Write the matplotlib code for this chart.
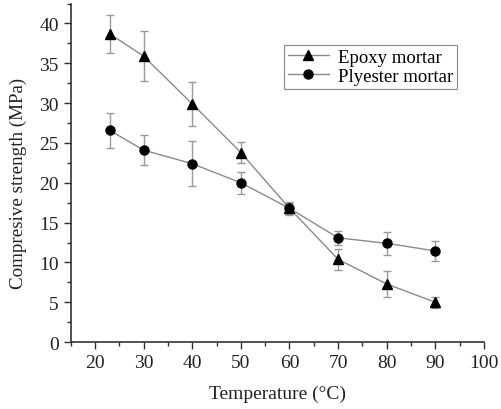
import matplotlib
matplotlib.use("Agg")
import matplotlib.pyplot as plt
from matplotlib.ticker import MultipleLocator

plt.rcParams['font.family'] = ['Liberation Serif', 'DejaVu Serif']
plt.rcParams['mathtext.fontset'] = 'stix'

temperature = [23, 30, 40, 50, 60, 70, 80, 90]
epoxy = [38.7, 35.9, 29.9, 23.8, 16.8, 10.4, 7.3, 5.0]
epoxy_err = [2.35, 3.1, 2.75, 1.3, 0.8, 1.3, 1.65, 0.7]
polyester = [26.6, 24.1, 22.4, 20.0, 16.8, 13.1, 12.4, 11.45]
polyester_err = [2.2, 1.9, 2.8, 1.4, 0.7, 0.9, 1.45, 1.25]
series_labels = ["Epoxy mortar", "Plyester mortar"]
xlabel = "Temperature (°C)"
ylabel = "Compresive strength (MPa)"

fig = plt.figure(figsize=(5.01, 4.10), dpi=100)
ax = fig.add_axes([0.141, 0.163, 0.825, 0.826])

line_c = '#8a8a8a'
err_c = '#9a9a9a'
for y, e, m, ms, lab in [(epoxy, epoxy_err, '^', 7.5, series_labels[0]),
                         (polyester, polyester_err, 'o', 6.5, series_labels[1])]:
    ax.errorbar(temperature, y, yerr=e, fmt='none', ecolor=err_c, elinewidth=1.0,
                capsize=3, capthick=1.0, zorder=2)
    ax.plot(temperature, y, color=line_c, lw=1.0, marker=m, ms=ms,
            mfc='black', mec='black', label=lab, zorder=3)

ax.set_xlim(15, 100)
ax.set_ylim(0, 42.5)
ax.xaxis.set_major_locator(MultipleLocator(10))
ax.xaxis.set_minor_locator(MultipleLocator(5))
ax.yaxis.set_major_locator(MultipleLocator(5))
ax.yaxis.set_minor_locator(MultipleLocator(2.5))
ax.set_xticks(range(20, 101, 10))

for s in ['top', 'right']:
    ax.spines[s].set_visible(False)
for s in ['left', 'bottom']:
    ax.spines[s].set_color('#333333')
    ax.spines[s].set_linewidth(1.2)

ax.tick_params(which='major', direction='out', length=5, width=1, colors='#333333',
               labelsize=14, labelcolor='#222222')
ax.tick_params(which='minor', direction='out', length=3, width=1, colors='#333333')

ax.set_xlabel(xlabel, fontsize=14, color='#222222', labelpad=10)
ax.set_ylabel(ylabel, fontsize=13.7, color='#222222')
ax.yaxis.set_label_coords(-0.105, 20 / 42.5)

leg = ax.legend(loc='upper left', bbox_to_anchor=(284/501, 1 - 46/410),
                bbox_transform=fig.transFigure, fontsize=13.5, frameon=True,
                fancybox=False, edgecolor='#777777', handlelength=2.2,
                borderpad=0.2, labelspacing=0.1, handletextpad=0.5, borderaxespad=0)
leg.get_frame().set_linewidth(0.9)

fig.savefig("out.png", dpi=100)
